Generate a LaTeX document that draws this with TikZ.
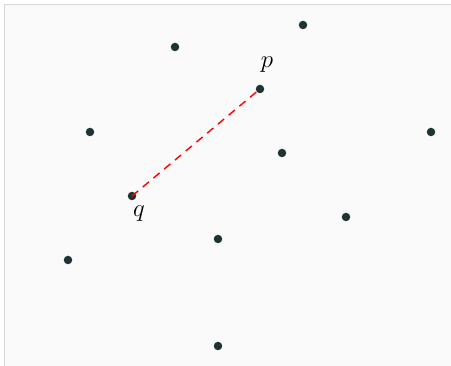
\documentclass[tikz,border=0pt]{standalone}
\begin{document}
\begin{tikzpicture}[x=1pt,y=-1pt,
  pt/.style={circle,fill=dotc,inner sep=0pt,minimum size=8.5pt},
  lbl/.style={inner sep=0pt,font=\fontsize{24}{28}\selectfont},
  seg/.style={red,dashed,line width=1.4pt,dash pattern=on 8pt off 6pt}]
\definecolor{dotc}{HTML}{1E3333}
\definecolor{framec}{HTML}{D9D9D9}
\definecolor{bgc}{HTML}{FAFAFA}
\useasboundingbox (0,0) rectangle (451,366);
\fill[white] (0,0) rectangle (451,366);
\fill[bgc] (4.5,4.5) rectangle (451,366);
\draw[framec,line width=1.5pt] (4.5,366) -- (4.5,4.5) -- (451,4.5);
\node[pt] (a) at (303,25) {};
\node[pt] (b) at (175,47) {};
\node[pt] (p) at (260,89) {};
\node[pt] (c) at (90,132) {};
\node[pt] (d) at (431,132) {};
\node[pt] (e) at (282,153) {};
\node[pt] (q) at (132,196) {};
\node[pt] (f) at (346,217) {};
\node[pt] (g) at (218,239) {};
\node[pt] (h) at (68,260) {};
\node[pt] (i) at (218,346) {};
\node[lbl] (pl) at (267,65) {$p$};
\node[lbl] (ql) at (139,214) {$q$};
\draw[seg] (q.center) -- (p.center);
\end{tikzpicture}
\end{document}
